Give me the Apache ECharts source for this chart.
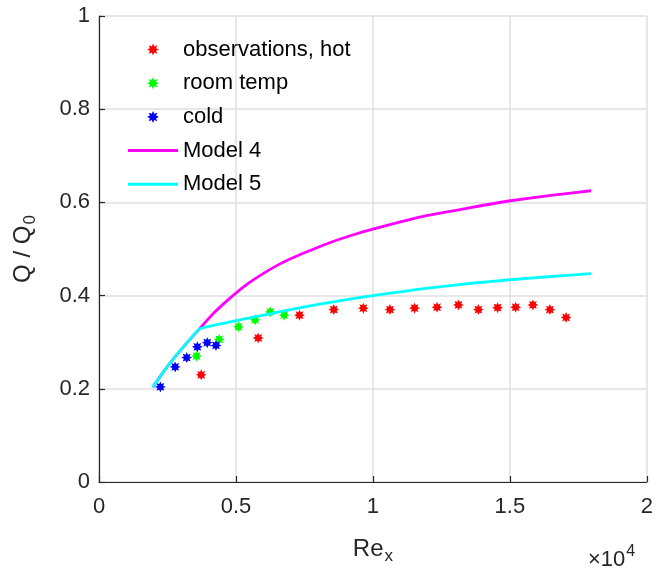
<!DOCTYPE html>
<html>
<head>
<meta charset="utf-8">
<script src="https://cdn.jsdelivr.net/npm/echarts@6/dist/echarts.min.js"></script>
<style>
html,body{margin:0;padding:0;background:#fff;}
#chart{width:656px;height:580px;}
</style>
</head>
<body>
<div id="chart"></div>
<script>
// Data (x in raw Re_x units, y = Q/Q0)
const hotX  = [3730, 5810, 7320, 8570, 9650, 10620, 11520, 12340, 13120, 13850, 14550, 15210, 15840, 16460, 17050];
const hotY  = [0.230, 0.309, 0.358, 0.370, 0.373, 0.370, 0.373, 0.375, 0.380, 0.370, 0.374, 0.375, 0.380, 0.370, 0.353];
const roomX = [3560, 4390, 5090, 5700, 6250, 6760];
const roomY = [0.270, 0.306, 0.333, 0.348, 0.365, 0.358];
const coldX = [2240, 2780, 3200, 3590, 3950, 4270];
const coldY = [0.204, 0.247, 0.267, 0.290, 0.299, 0.293];
const model4X = [1960, 2300, 2700, 3200, 3660, 4200, 4750, 5350, 5960, 6570, 7180, 7800, 8390, 9200, 9960, 11000, 12000, 13500, 14960, 16500, 17960];
const model4Y = [0.203, 0.232, 0.263, 0.298, 0.328, 0.363, 0.393, 0.422, 0.446, 0.467, 0.484, 0.499, 0.513, 0.529, 0.542, 0.558, 0.572, 0.588, 0.603, 0.615, 0.625];
const model5X = [1960, 2300, 2700, 3200, 3660, 4500, 5500, 6240, 7000, 8000, 9000, 10000, 11000, 12000, 13500, 15000, 16500, 17960];
const model5Y = [0.203, 0.232, 0.263, 0.298, 0.328, 0.340, 0.352, 0.361, 0.370, 0.381, 0.391, 0.400, 0.408, 0.416, 0.426, 0.434, 0.441, 0.447];
const xTicks = [0, 5000, 10000, 15000, 20000];
const yTicks = [0, 0.2, 0.4, 0.6, 0.8, 1];
const seriesNames = ['observations, hot', 'room temp', 'cold', 'Model 4', 'Model 5'];

const zip = (xs, ys) => xs.map((x, i) => [x, ys[i]]);

// asterisk-like 8-point star symbol
function starPath() {
  let d = '';
  const n = 8, ro = 10, ri = 5.6;
  for (let i = 0; i < 2 * n; i++) {
    const a = Math.PI * i / n - Math.PI / 2;
    const r = i % 2 === 0 ? ro : ri;
    const px = (r * Math.cos(a)).toFixed(3), py = (r * Math.sin(a)).toFixed(3);
    d += (i === 0 ? 'M' : 'L') + px + ',' + py;
  }
  return 'path://' + d + 'Z';
}
const STAR = starPath();
const LINEICON = 'path://M0,0L50,0L50,3L0,3Z';
const FONT = '"Liberation Sans", Arial, Helvetica, sans-serif';
const TXT = '#262626';

const chart = echarts.init(document.getElementById('chart'));
function scatter(name, data, color) {
  return {
    name, type: 'scatter', data, symbol: STAR, symbolSize: 11,
    itemStyle: { color, opacity: 1 }, z: 2
  };
}
function line(name, data, color, z) {
  return {
    name, type: 'line', data, showSymbol: false, symbol: 'none', smooth: 0.15,
    lineStyle: { color, width: 2.8 }, itemStyle: { color }, z
  };
}
chart.setOption({
  animation: false,
  backgroundColor: '#fff',
  textStyle: { fontFamily: FONT },
  grid: { left: 99, right: 8, top: 16, bottom: 98, containLabel: false },
  xAxis: {
    type: 'value', min: xTicks[0], max: xTicks[xTicks.length - 1], interval: 5000,
    name: '{b|Re}{s|x}', nameLocation: 'middle', nameGap: 52,
    nameTextStyle: {
      rich: {
        b: { fontSize: 24, color: TXT, fontFamily: FONT },
        s: { fontSize: 17, color: TXT, fontFamily: FONT, padding: [14, 0, 0, 1] }
      }
    },
    axisLine: { show: true, onZero: false, lineStyle: { color: TXT, width: 1.2 } },
    axisTick: { show: true, inside: true, length: 6, lineStyle: { color: TXT, width: 1.2 } },
    axisLabel: { fontSize: 22, color: TXT, margin: 14, formatter: v => String(v / 10000) },
    splitLine: { show: true, lineStyle: { color: '#dfdfdf', width: 1.5 } }
  },
  yAxis: {
    type: 'value', min: yTicks[0], max: yTicks[yTicks.length - 1], interval: 0.2,
    name: '{b|Q / Q}{s|0}', nameLocation: 'middle', nameGap: 60, nameRotate: 90,
    nameTextStyle: {
      rich: {
        b: { fontSize: 24, color: TXT, fontFamily: FONT },
        s: { fontSize: 17, color: TXT, fontFamily: FONT, padding: [14, 0, 0, 1] }
      }
    },
    axisLine: { show: true, onZero: false, lineStyle: { color: TXT, width: 1.2 } },
    axisTick: { show: true, inside: true, length: 6, lineStyle: { color: TXT, width: 1.2 } },
    axisLabel: { fontSize: 22, color: TXT, margin: 9, formatter: v => String(Math.round(v * 10) / 10) },
    splitLine: { show: true, lineStyle: { color: '#dfdfdf', width: 1.5 } }
  },
  legend: {
    orient: 'vertical', left: 128, top: 38, itemWidth: 50, itemHeight: 12, itemGap: 10.7, padding: 0,
    data: [
      { name: seriesNames[0] }, { name: seriesNames[1] }, { name: seriesNames[2] },
      { name: seriesNames[3], icon: LINEICON }, { name: seriesNames[4], icon: LINEICON }
    ],
    textStyle: { fontSize: 22, color: '#000', fontFamily: FONT, lineHeight: 23 },
    inactiveColor: '#ccc'
  },
  graphic: [{
    type: 'text', left: 588, top: 544,
    style: {
      text: '{a|×10}{b|4}',
      rich: {
        a: { fontSize: 22, fill: TXT, fontFamily: FONT, padding: [8, 0, 0, 0] },
        b: { fontSize: 16, fill: TXT, fontFamily: FONT, padding: [0, 0, 8, 1] }
      }
    }
  }],
  series: [
    scatter(seriesNames[0], zip(hotX, hotY), '#ff0000'),
    scatter(seriesNames[1], zip(roomX, roomY), '#00ff00'),
    scatter(seriesNames[2], zip(coldX, coldY), '#0000ff'),
    line(seriesNames[3], zip(model4X, model4Y), '#ff00ff', 3),
    line(seriesNames[4], zip(model5X, model5Y), '#00ffff', 4)
  ]
});
</script>
</body>
</html>
